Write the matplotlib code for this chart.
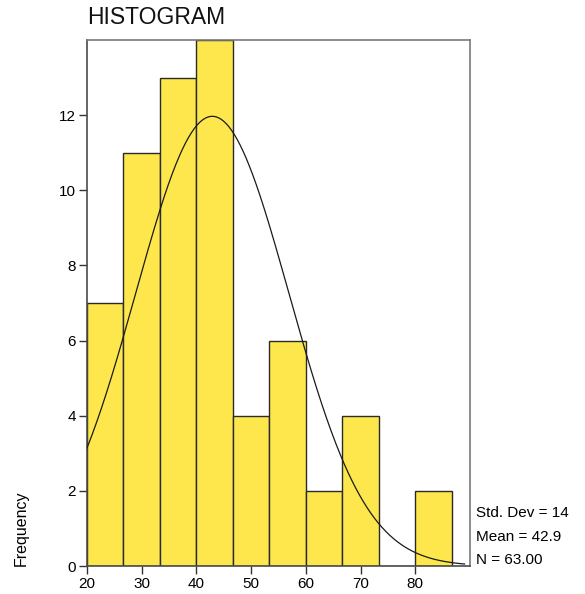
import numpy as np
import matplotlib
matplotlib.use("Agg")
import matplotlib.pyplot as plt

plt.rcParams['font.family'] = ['Liberation Sans', 'DejaVu Sans']

# Data
bin_edges = [20, 26.667, 33.333, 40, 46.667, 53.333, 60, 66.667, 73.333, 80, 86.667]
counts = [7, 11, 13, 14, 4, 6, 2, 4, 0, 2]
std_dev = 14.0
mean = 42.9
n = 63
x_ticks = [20, 30, 40, 50, 60, 70, 80]
y_ticks = [0, 2, 4, 6, 8, 10, 12]

fig = plt.figure(figsize=(5.85, 5.94), dpi=100)
ax = fig.add_axes([87/585, 1-566/594, (470-87)/585, (566-40)/594])

lefts = bin_edges[:-1]
widths = np.diff(bin_edges)
ax.bar(lefts, counts, width=widths, align='edge', color='#FDE74C',
       edgecolor='#2a2a2a', linewidth=1.0, zorder=2)

# fitted normal curve
bw = widths[0]
xs = np.linspace(20, 89, 400)
ys = n * bw * np.exp(-0.5 * ((xs - mean) / std_dev) ** 2) / (std_dev * np.sqrt(2 * np.pi))
ax.plot(xs, ys, color='#1a1a1a', linewidth=0.9, zorder=3)

ax.set_xlim(20, 90)
ax.set_ylim(0, 14)
ax.set_xticks(x_ticks)
ax.set_yticks(y_ticks)
for s in ax.spines.values():
    s.set_color('#7a7a7a')
    s.set_linewidth(1.2)
ax.spines['left'].set_color('#4a4a4a')
ax.spines['bottom'].set_color('#4a4a4a')
ax.tick_params(axis='both', direction='out', length=6, width=1, color='#333333',
               labelsize=11, pad=2, top=False, right=False)

fig.text(87/585, 1-18/594, 'HISTOGRAM', fontsize=16.5, ha='left', va='center', color='#111111')
fig.text(21/585, 1-528/594, 'Frequency', rotation=90, fontsize=11.5, ha='center', va='center')

fig.text(476/585, 1-513/594, 'Std. Dev = 14', fontsize=11, ha='left', va='center')
fig.text(476/585, 1-537/594, 'Mean = 42.9', fontsize=11, ha='left', va='center')
fig.text(476/585, 1-560/594, 'N = 63.00', fontsize=11, ha='left', va='center')

fig.savefig('out.png', dpi=100)
